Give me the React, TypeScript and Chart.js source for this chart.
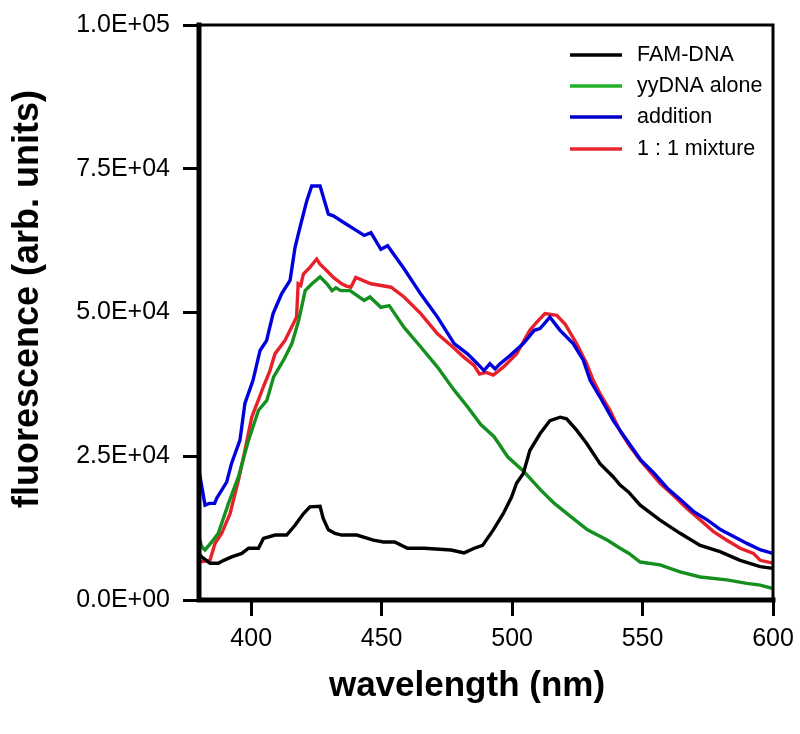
import React, { useEffect, useRef } from 'react';
import { Chart, registerables } from 'chart.js';

Chart.register(...registerables);

// ---- data (wavelength in nm, fluorescence in arb. units) ----
const famWl = [380, 381, 384.2, 387.4, 389.5, 392.5, 396.4, 399, 402.8, 404.7, 409.2, 413.6, 416.8, 420, 422.5, 426.4, 427.6, 429.6, 432.1, 434.7, 440.5, 446.8, 450.7, 455, 459.9, 466.3, 476.6, 481.6, 485.5, 488.7, 492.8, 496.6, 499.8, 501.7, 504.3, 506.8, 510.7, 514.5, 518.4, 520.9, 524.8, 528.6, 533.7, 538.8, 541.4, 544.6, 549.1, 556.7, 564.4, 572.1, 579.7, 587.4, 595.1, 600];
const famVal = [8100, 7500, 6400, 6400, 6900, 7500, 8100, 9000, 9000, 10700, 11300, 11300, 13000, 15000, 16200, 16300, 14200, 12200, 11600, 11300, 11300, 10400, 10100, 10100, 9000, 9000, 8700, 8200, 9000, 9500, 12200, 15000, 17900, 20300, 22000, 26000, 28900, 31200, 31800, 31500, 29500, 27200, 23700, 21400, 20000, 18800, 16500, 13900, 11600, 9500, 8400, 6900, 5800, 5500];

const yyWl = [380, 381, 382.3, 384.9, 387.4, 391.3, 395.1, 399, 402.8, 406, 408.6, 412.4, 415.6, 418.2, 420.7, 423.3, 426.4, 429, 431, 432.5, 434.3, 437.9, 443.3, 445.5, 449.7, 452.9, 458.6, 465, 471.4, 477.8, 482.9, 488, 493.1, 498.3, 504.6, 511, 516.2, 522.5, 528.9, 536.6, 541.4, 544.8, 549.1, 556.7, 564.4, 572.1, 582.3, 590, 595.1, 600];
const yyVal = [11000, 9300, 8700, 10100, 11600, 16800, 21400, 27800, 33000, 34700, 38800, 41700, 44600, 48600, 53800, 55000, 56200, 55000, 53800, 54300, 53800, 53800, 52100, 52700, 50900, 51200, 47400, 44000, 40500, 36500, 33600, 30500, 28400, 24900, 22300, 19100, 16800, 14500, 12200, 10400, 9000, 8100, 6600, 6100, 4900, 4000, 3500, 2900, 2600, 2000];

const addWl = [380, 382.3, 384, 386, 386.8, 390.6, 392.5, 395.7, 397.6, 400.7, 403.4, 405.9, 408.4, 411.7, 414.9, 416.8, 418.7, 421.3, 423.2, 426.4, 429.6, 431.5, 435.3, 439.5, 443.3, 445.9, 449.7, 452.3, 458.6, 465, 471.4, 477.8, 482.9, 486.7, 489.2, 491.5, 493.5, 495.4, 499.2, 504.3, 508.5, 510.7, 514.5, 518.4, 523.4, 527.3, 529.9, 533.7, 538.8, 542.7, 549.4, 554.5, 559.6, 564.7, 569.8, 574.9, 580, 585.1, 590.2, 595.3, 600];
const addVal = [22500, 16500, 16800, 16800, 17700, 20500, 23800, 27800, 34200, 38200, 43400, 45100, 49800, 53300, 55600, 61300, 64800, 69400, 72000, 72000, 67100, 66800, 65700, 64500, 63400, 63900, 61000, 61600, 57600, 53200, 49200, 44600, 42800, 41100, 39900, 41100, 40200, 41100, 42500, 44600, 46900, 47200, 49200, 46900, 44600, 41700, 38200, 35300, 31200, 28600, 24300, 22000, 19400, 17400, 15300, 13900, 12200, 11000, 9800, 8700, 8100];

const mixWl = [380, 384.2, 386.1, 388.7, 391.9, 395.1, 397.6, 400.2, 402.7, 404.6, 407.2, 409.1, 412.9, 416.1, 417.4, 418, 419, 420, 422.6, 425.1, 426.4, 428.9, 431.5, 434.7, 436.5, 438.2, 440.1, 445.9, 453.6, 458.6, 465, 471.4, 476.5, 481.6, 485.4, 487.5, 490, 492.8, 496.6, 501.7, 506.8, 509.4, 512.6, 517.1, 520.3, 524.7, 528.6, 531.1, 533.7, 537.5, 541.4, 545, 549.1, 556.7, 561.8, 567, 572.1, 577.2, 582.3, 587.4, 592.5, 595.1, 600];
const mixVal = [6600, 6900, 9800, 11600, 15000, 20800, 26000, 31800, 34700, 37000, 39900, 42800, 45100, 48000, 49200, 55000, 54700, 56700, 57900, 59300, 58400, 57300, 56100, 55000, 54600, 54400, 56100, 55000, 54400, 52700, 49800, 46300, 44300, 42200, 40800, 39300, 39600, 39100, 40500, 42800, 46900, 48300, 49800, 49500, 48000, 44600, 41100, 38200, 35900, 33000, 29400, 26800, 24300, 20300, 18200, 15900, 13900, 11900, 10400, 9000, 8100, 6900, 6400];

const seriesNames = ['FAM-DNA', 'yyDNA alone', 'addition', '1 : 1 mixture'];
const seriesColors = ['#000000', '#15901f', '#0000dd', '#e8202a'];
const legendColors = ['#000000', '#22b02a', '#0000cc', '#e8262e'];

const xTicks = [400, 450, 500, 550, 600];
const yTicks = [0, 25000, 50000, 75000, 100000];
const yTickLabels = ['0.0E+00', '2.5E+04', '5.0E+04', '7.5E+04', '1.0E+05'];

const xTitle = 'wavelength (nm)';
const yTitle = 'fluorescence (arb. units)';

const FONT = '"Liberation Sans", Arial, Helvetica, sans-serif';

const toPoints = (xs: number[], ys: number[]) => xs.map((x, i) => ({ x, y: ys[i] }));

const decorPlugin = {
  id: 'decor',
  afterDatasetsDraw(chart: any) {
    const { ctx, chartArea } = chart;
    const { left, right, top, bottom } = chartArea;
    ctx.save();
    ctx.strokeStyle = '#000';
    ctx.lineCap = 'square';
    ctx.lineWidth = 3;
    ctx.beginPath();
    ctx.moveTo(left, top);
    ctx.lineTo(right, top);
    ctx.lineTo(right, bottom);
    ctx.stroke();
    ctx.lineWidth = 5;
    ctx.beginPath();
    ctx.moveTo(left, top);
    ctx.lineTo(left, bottom);
    ctx.lineTo(right, bottom);
    ctx.stroke();
    ctx.restore();
  },
  afterDraw(chart: any) {
    const { ctx } = chart;
    ctx.save();
    const legendY = [55, 86, 117, 149];
    ctx.font = `21.5px ${FONT}`;
    ctx.textAlign = 'left';
    ctx.textBaseline = 'middle';
    seriesNames.forEach((name, i) => {
      ctx.strokeStyle = legendColors[i];
      ctx.lineWidth = 3.5;
      ctx.beginPath();
      ctx.moveTo(570, legendY[i]);
      ctx.lineTo(622, legendY[i]);
      ctx.stroke();
      ctx.fillStyle = '#000';
      ctx.fillText(name, 637, legendY[i]);
    });
    ctx.fillStyle = '#000';
    ctx.font = `bold 35px ${FONT}`;
    ctx.textAlign = 'center';
    ctx.textBaseline = 'middle';
    ctx.fillText(xTitle, 467, 686);
    ctx.font = `bold 36px ${FONT}`;
    ctx.translate(28, 299);
    ctx.rotate(-Math.PI / 2);
    ctx.fillText(yTitle, 0, 0);
    ctx.restore();
  },
};

export default function App() {
  const canvasRef = useRef<HTMLCanvasElement | null>(null);

  useEffect(() => {
    if (!canvasRef.current) return;
    const datasets = [
      toPoints(famWl, famVal),
      toPoints(yyWl, yyVal),
      toPoints(addWl, addVal),
      toPoints(mixWl, mixVal),
    ].map((data, i) => ({
      label: seriesNames[i],
      data,
      borderColor: seriesColors[i],
      backgroundColor: seriesColors[i],
      borderWidth: 3.4,
      pointRadius: 0,
      tension: 0,
      fill: false,
    }));
    const chart = new Chart(canvasRef.current, {
      type: 'line',
      data: { datasets },
      options: {
        animation: false,
        responsive: false,
        maintainAspectRatio: false,
        layout: { padding: { top: 25, right: 27, left: 0, bottom: 0 } },
        plugins: { legend: { display: false }, tooltip: { enabled: false } },
        scales: {
          x: {
            type: 'linear',
            min: 380,
            max: 600,
            afterFit: (s: any) => { s.height = 134; s.paddingRight = 0; s.paddingLeft = 0; },
            afterBuildTicks: (s: any) => { s.ticks = xTicks.map((v) => ({ value: v })); },
            grid: { drawOnChartArea: false, drawTicks: true, tickLength: 16, tickWidth: 3, tickColor: '#000' },
            border: { display: false },
            ticks: {
              color: '#000',
              padding: 8,
              maxRotation: 0,
              font: { family: FONT, size: 25 },
              callback: (v: any) => String(v),
            },
          },
          y: {
            type: 'linear',
            min: 0,
            max: 100000,
            afterFit: (s: any) => { s.width = 199; s.paddingTop = 0; s.paddingBottom = 0; },
            afterBuildTicks: (s: any) => { s.ticks = yTicks.map((v) => ({ value: v })); },
            grid: { drawOnChartArea: false, drawTicks: true, tickLength: 16, tickWidth: 3, tickColor: '#000' },
            border: { display: false },
            ticks: {
              color: '#000',
              padding: 13,
              font: { family: FONT, size: 25 },
              callback: (v: any) => {
                const idx = yTicks.indexOf(Number(v));
                return idx >= 0 ? yTickLabels[idx] : '';
              },
            },
          },
        },
      },
      plugins: [decorPlugin],
    });
    return () => chart.destroy();
  }, []);

  return (
    <div style={{ position: 'fixed', left: 0, top: 0, width: 800, height: 734, background: '#fff' }}>
      <canvas ref={canvasRef} width={800} height={734} style={{ width: 800, height: 734 }} />
    </div>
  );
}
